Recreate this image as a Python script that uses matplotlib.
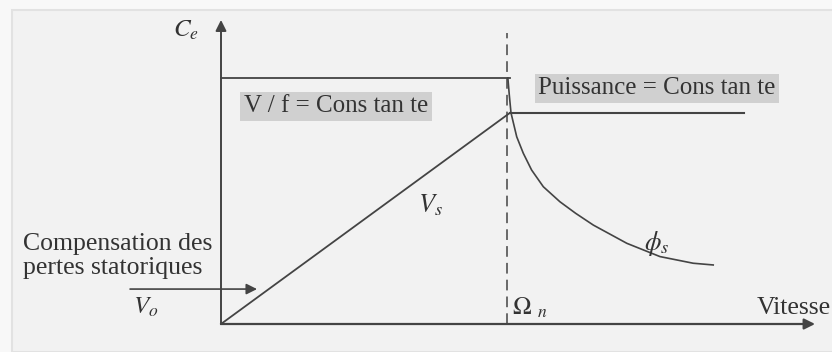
import matplotlib
matplotlib.use("Agg")
import matplotlib.pyplot as plt
from matplotlib.patches import Rectangle

plt.rcParams["font.family"] = ["Liberation Serif", "DejaVu Serif"]
plt.rcParams["mathtext.fontset"] = "stix"

# data (speed relative to nominal speed, torque relative to max torque)
x_max = 2.077
y_max = 1.236
omega_n = 1.0

torque_x = [0.0, 1.01]
torque_y = [1.0, 1.0]

vs_x = [0.0, 1.01]
vs_y = [0.0, 0.858]

power_x = [1.01, 1.829]
power_y = [0.858, 0.858]

flux_x = [1.003, 1.008, 1.014, 1.034, 1.057, 1.086, 1.127, 1.185, 1.240,
          1.302, 1.419, 1.535, 1.651, 1.721]
flux_y = [1.000, 0.931, 0.858, 0.761, 0.694, 0.626, 0.558, 0.497, 0.450,
          0.402, 0.328, 0.274, 0.247, 0.240]

comp_x = [-0.318, 0.126]
comp_y = [0.142, 0.142]

line_col = "#444444"

fig = plt.figure(figsize=(8.32, 3.52), dpi=100, facecolor="#f8f8f8")
fig.patches.append(Rectangle((12 / 832, 0), 1, 1 - 10 / 352, transform=fig.transFigure,
                             facecolor="#f2f2f2", edgecolor="#e2e2e2", lw=1.5, zorder=-10))

ax = fig.add_axes([0, 0, 1, 1])
ax.set_xlim(-221 / 286, (832 - 221) / 286)
ax.set_ylim(-28 / 246, 324 / 246)
ax.axis("off")
ax.patch.set_alpha(0)

# axes with arrows
ax.annotate("", xy=(0, y_max), xytext=(0, 0),
            arrowprops=dict(arrowstyle="-|>", color=line_col, lw=1.4, mutation_scale=16, shrinkA=0, shrinkB=0))
ax.annotate("", xy=(x_max, 0), xytext=(0, 0),
            arrowprops=dict(arrowstyle="-|>", color=line_col, lw=1.6, mutation_scale=16, shrinkA=0, shrinkB=0))

ax.plot([omega_n, omega_n], [0, 1.183], color=line_col, lw=1.1, dashes=(7, 4))

ax.plot(torque_x, torque_y, color=line_col, lw=1.3)
ax.plot(vs_x, vs_y, color=line_col, lw=1.3)
ax.plot(power_x, power_y, color=line_col, lw=1.5)
ax.plot(flux_x, flux_y, color=line_col, lw=1.2, solid_joinstyle="round")

ax.annotate("", xy=(comp_x[1], comp_y[1]), xytext=(comp_x[0], comp_y[0]),
            arrowprops=dict(arrowstyle="-|>", color=line_col, lw=1.2, mutation_scale=16, shrinkA=0, shrinkB=0))

txt_col = "#333333"
box = dict(boxstyle="square,pad=0.14", facecolor="#d0d0d0", edgecolor="none")

ax.text(-0.122, 1.195, r"$C_e$", fontsize=18, color=txt_col, ha="center", va="center")
ax.text(0.402, 0.885, "V / f = Cons tan te", fontsize=18, color=txt_col, ha="center", va="center", bbox=box)
ax.text(1.524, 0.958, "Puissance = Cons tan te", fontsize=18, color=txt_col, ha="center", va="center", bbox=box)
ax.text(-0.692, 0.276, "Compensation des\npertes statoriques", fontsize=18.5, color=txt_col,
        ha="left", va="center", linespacing=1.15)
ax.text(-0.262, 0.069, r"$V_o$", fontsize=18, color=txt_col, ha="center", va="center")
ax.text(0.731, 0.484, r"$V_s$", fontsize=19, color=txt_col, ha="center", va="center")
ax.text(1.524, 0.329, r"$\phi_s$", fontsize=19, color=txt_col, ha="center", va="center")
ax.text(1.08, 0.065, r"$\Omega\ _n$", fontsize=18, color=txt_col, ha="center", va="center")
ax.text(1.874, 0.065, "Vitesse", fontsize=18.5, color=txt_col, ha="left", va="center")

fig.savefig("out.png", dpi=100, facecolor=fig.get_facecolor())
